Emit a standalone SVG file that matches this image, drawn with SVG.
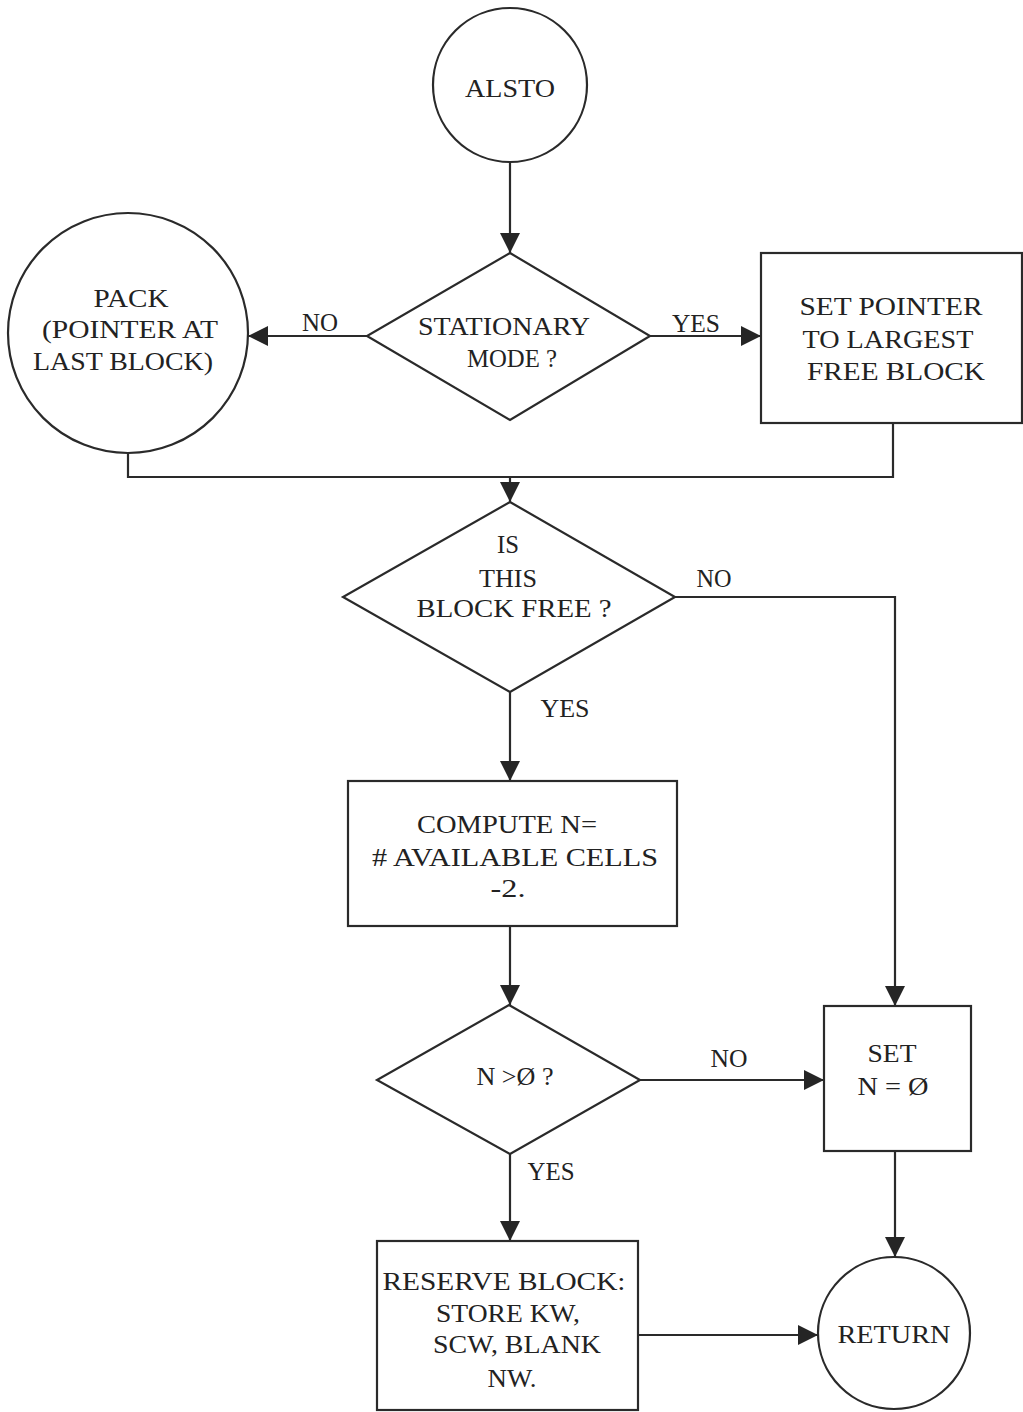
<svg xmlns="http://www.w3.org/2000/svg" width="1023" height="1412" viewBox="0 0 1023 1412">
  <defs>
    <marker id="arrow" markerUnits="userSpaceOnUse" markerWidth="20" markerHeight="20" refX="20" refY="10" orient="auto">
      <path d="M0,0 L20,10 L0,20 z" fill="#252525"/>
    </marker>
    <style>
      .shape { fill: #ffffff; stroke: #2a2a2a; stroke-width: 2.2; }
      .edge { fill: none; stroke: #2a2a2a; stroke-width: 2.2; }
      .arrow { marker-end: url(#arrow); }
      text { font-family: "Liberation Serif", "DejaVu Serif", serif; font-size: 26px; fill: #222222; text-anchor: middle; }
      .lbl { font-size: 25px; }
    </style>
  </defs>

  <rect x="0" y="0" width="1023" height="1412" fill="#ffffff"/>

  <!-- connectors -->
  <g id="connectors">
    <path class="edge arrow" d="M510,162 V253"/>
    <path class="edge arrow" d="M367,336 H248"/>
    <path class="edge arrow" d="M650,336 H761"/>
    <path class="edge" d="M128,453 V477 H893 V423"/>
    <path class="edge arrow" d="M510,477 V502"/>
    <path class="edge arrow" d="M675,597 H895 V1006"/>
    <path class="edge arrow" d="M510,692 V781"/>
    <path class="edge arrow" d="M510,926 V1005"/>
    <path class="edge arrow" d="M640,1080 H824"/>
    <path class="edge arrow" d="M510,1154 V1241"/>
    <path class="edge arrow" d="M895,1151 V1257"/>
    <path class="edge arrow" d="M638,1335 H818"/>

    <text class="lbl" x="320" y="331" textLength="36" lengthAdjust="spacingAndGlyphs">NO</text>
    <text class="lbl" x="696" y="332" textLength="48" lengthAdjust="spacingAndGlyphs">YES</text>
    <text class="lbl" x="714" y="587" textLength="35" lengthAdjust="spacingAndGlyphs">NO</text>
    <text class="lbl" x="565" y="717" textLength="49" lengthAdjust="spacingAndGlyphs">YES</text>
    <text class="lbl" x="729" y="1067" textLength="37" lengthAdjust="spacingAndGlyphs">NO</text>
    <text class="lbl" x="551" y="1180" textLength="47" lengthAdjust="spacingAndGlyphs">YES</text>
  </g>

  <!-- entry terminal -->
  <g id="alsto">
    <circle class="shape" cx="510" cy="85" r="77"/>
    <text x="510" y="97" textLength="90" lengthAdjust="spacingAndGlyphs">ALSTO</text>
  </g>

  <!-- mode decision -->
  <g id="stationary-mode">
    <polygon class="shape" points="510,253 650,336 510,420 367,336"/>
    <text x="504" y="335" textLength="172" lengthAdjust="spacingAndGlyphs">STATIONARY</text>
    <text x="512" y="367" textLength="90" lengthAdjust="spacingAndGlyphs">MODE ?</text>
  </g>

  <g id="pack">
    <circle class="shape" cx="128" cy="333" r="120"/>
    <text x="131" y="307" textLength="75" lengthAdjust="spacingAndGlyphs">PACK</text>
    <text x="130" y="338" textLength="176" lengthAdjust="spacingAndGlyphs">(POINTER AT</text>
    <text x="123" y="370" textLength="180" lengthAdjust="spacingAndGlyphs">LAST BLOCK)</text>
  </g>

  <g id="set-pointer">
    <rect class="shape" x="761" y="253" width="261" height="170"/>
    <text x="891" y="315" textLength="183" lengthAdjust="spacingAndGlyphs">SET POINTER</text>
    <text x="888" y="348" textLength="171" lengthAdjust="spacingAndGlyphs">TO LARGEST</text>
    <text x="896" y="380" textLength="178" lengthAdjust="spacingAndGlyphs">FREE BLOCK</text>
  </g>

  <g id="block-free">
    <polygon class="shape" points="510,502 675,597 510,692 343,597"/>
    <text x="508" y="553" textLength="22" lengthAdjust="spacingAndGlyphs">IS</text>
    <text x="508" y="587" textLength="58" lengthAdjust="spacingAndGlyphs">THIS</text>
    <text x="514" y="617" textLength="195" lengthAdjust="spacingAndGlyphs">BLOCK FREE ?</text>
  </g>

  <g id="compute-n">
    <rect class="shape" x="348" y="781" width="329" height="145"/>
    <text x="507" y="833" textLength="180" lengthAdjust="spacingAndGlyphs">COMPUTE N=</text>
    <text x="515" y="866" textLength="286" lengthAdjust="spacingAndGlyphs"># AVAILABLE CELLS</text>
    <text x="508" y="897" textLength="35" lengthAdjust="spacingAndGlyphs">-2.</text>
  </g>

  <g id="n-positive">
    <polygon class="shape" points="509,1005 640,1080 510,1154 377,1080"/>
    <text x="515" y="1085" textLength="77" lengthAdjust="spacingAndGlyphs">N &gt;Ø ?</text>
  </g>

  <g id="set-n-zero">
    <rect class="shape" x="824" y="1006" width="147" height="145"/>
    <text x="892" y="1062" textLength="49" lengthAdjust="spacingAndGlyphs">SET</text>
    <text x="893" y="1095" textLength="71" lengthAdjust="spacingAndGlyphs">N = Ø</text>
  </g>

  <g id="reserve-block">
    <rect class="shape" x="377" y="1241" width="261" height="169"/>
    <text x="504" y="1290" textLength="243" lengthAdjust="spacingAndGlyphs">RESERVE BLOCK:</text>
    <text x="508" y="1322" textLength="144" lengthAdjust="spacingAndGlyphs">STORE KW,</text>
    <text x="517" y="1353" textLength="168" lengthAdjust="spacingAndGlyphs">SCW, BLANK</text>
    <text x="512" y="1387" textLength="49" lengthAdjust="spacingAndGlyphs">NW.</text>
  </g>

  <g id="return">
    <circle class="shape" cx="894" cy="1333" r="76"/>
    <text x="894" y="1343" textLength="113" lengthAdjust="spacingAndGlyphs">RETURN</text>
  </g>
</svg>
